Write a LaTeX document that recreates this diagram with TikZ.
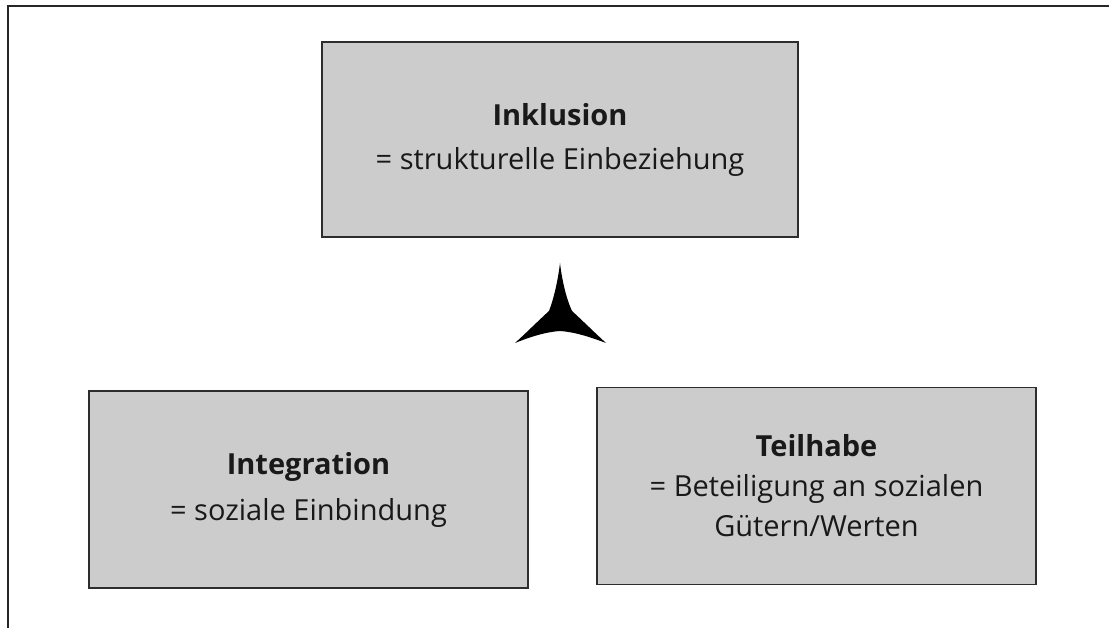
\documentclass[tikz,border=0pt]{standalone}
\usepackage{fontspec}
\setmainfont{Open Sans}
\definecolor{boxgray}{RGB}{204,204,204}
\definecolor{edge}{RGB}{45,45,45}
\begin{document}
\begin{tikzpicture}[x=1pt,y=-1pt,
  conceptbox/.style={draw=edge, line width=1.6pt, fill=boxgray, align=center,
    inner sep=0pt, font=\fontsize{29}{44}\selectfont, text=black!90},
  frameline/.style={draw=black!85, line width=2pt}]
\useasboundingbox (0,0) rectangle (1109,628);
\fill[white] (0,0) rectangle (1109,628);
% outer frame (top and left only)
\coordinate (ftl) at (8,6);
\coordinate (ftr) at (1109,6);
\coordinate (fbl) at (8,628);
\draw[frameline] (ftr) -- (ftl) -- (fbl);
% boxes
\node[conceptbox, minimum width=476pt, minimum height=195pt] (inkl) at (560,139.5)
  {\textbf{Inklusion}\\= strukturelle Einbeziehung};
\node[conceptbox, minimum width=439pt, minimum height=197pt, font=\fontsize{29}{46}\selectfont] (integ) at (308.5,489.5)
  {\textbf{Integration}\\= soziale Einbindung};
\node[conceptbox, minimum width=439pt, minimum height=197pt, font=\fontsize{29}{40}\selectfont] (teil) at (816.5,486)
  {\textbf{Teilhabe}\\= Beteiligung an sozialen\\Gütern/Werten};
% three-pointed star
\fill[black] (560,263) .. controls (562,280) and (566,298) .. (572,311)
  .. controls (584,322) and (595,333) .. (606,343)
  .. controls (590,337) and (575,332) .. (560,331)
  .. controls (545,332) and (530,337) .. (515,343)
  .. controls (526,333) and (537,322) .. (549,311)
  .. controls (554,298) and (558,280) .. (560,263) -- cycle;
\end{tikzpicture}
\end{document}
